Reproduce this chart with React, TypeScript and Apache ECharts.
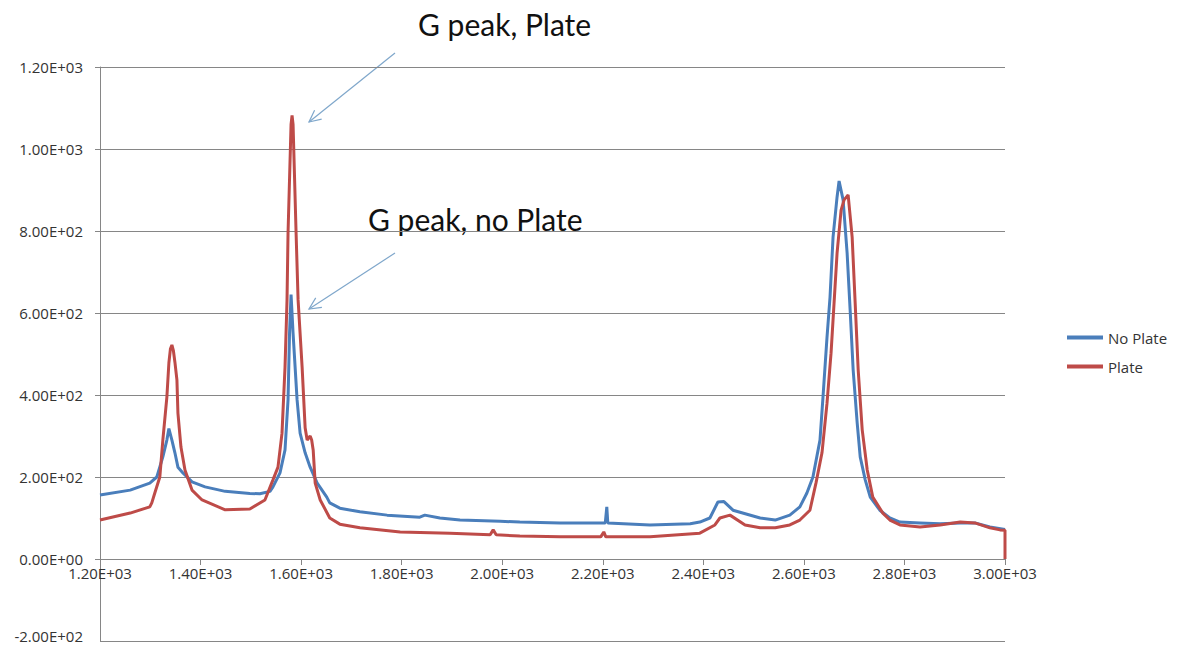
import React, { useEffect, useRef } from "react";
import * as echarts from "echarts";

// Raman shift (cm^-1) vs intensity
const noPlateX = [1200, 1260, 1299, 1313, 1325, 1333, 1337, 1343, 1349, 1355, 1365, 1383, 1409, 1449, 1498, 1518, 1538, 1544, 1558, 1568, 1574, 1577, 1580, 1584, 1592, 1598, 1608, 1618, 1632, 1651, 1657, 1677, 1717, 1771, 1836, 1846, 1876, 1916, 1996, 2035, 2115, 2194, 2205, 2208, 2210, 2294, 2374, 2393, 2413, 2429, 2441, 2459, 2513, 2543, 2572, 2592, 2606, 2618, 2632, 2638, 2646, 2652, 2658, 2666, 2670, 2678, 2686, 2692, 2698, 2706, 2712, 2722, 2732, 2751, 2771, 2791, 2831, 2871, 2911, 2940, 2970, 3000];
const noPlateY = [156, 168, 185, 200, 249, 290, 318, 290, 259, 224, 210, 188, 176, 165, 160, 159, 165, 176, 210, 266, 388, 551, 645, 551, 388, 307, 259, 224, 185, 151, 137, 124, 115, 107, 102, 107, 100, 95, 92, 90, 88, 88, 88, 127, 88, 83, 86, 90, 100, 139, 140, 119, 100, 95, 107, 127, 161, 200, 290, 395, 541, 639, 785, 883, 922, 876, 746, 607, 461, 332, 249, 193, 151, 119, 100, 90, 88, 86, 88, 88, 78, 72];

const plateX = [1200, 1260, 1299, 1303, 1309, 1319, 1325, 1333, 1337, 1340, 1343, 1346, 1349, 1353, 1355, 1361, 1369, 1383, 1403, 1449, 1498, 1528, 1544, 1554, 1562, 1568, 1572, 1574, 1580, 1582, 1584, 1590, 1594, 1602, 1608, 1612, 1618, 1621, 1624, 1628, 1638, 1657, 1677, 1717, 1797, 1896, 1976, 1982, 1988, 2035, 2115, 2196, 2202, 2206, 2294, 2393, 2423, 2433, 2453, 2483, 2513, 2543, 2572, 2592, 2612, 2624, 2636, 2646, 2654, 2660, 2666, 2674, 2680, 2688, 2696, 2702, 2708, 2716, 2726, 2737, 2757, 2771, 2791, 2831, 2871, 2911, 2940, 2970, 2990, 3000, 3000];
const plateY = [95, 112, 127, 137, 161, 200, 290, 395, 478, 512, 522, 508, 480, 437, 356, 273, 217, 168, 144, 120, 122, 144, 193, 224, 307, 468, 632, 795, 1060, 1082, 1060, 795, 632, 468, 320, 290, 300, 290, 266, 185, 144, 100, 85, 76, 66, 63, 59, 71, 59, 56, 54, 54, 66, 54, 54, 63, 83, 100, 107, 83, 76, 76, 83, 95, 119, 185, 259, 380, 502, 624, 746, 851, 876, 888, 785, 624, 461, 315, 217, 151, 112, 95, 83, 78, 83, 90, 88, 76, 71, 70, 0];

const seriesNames = ["No Plate", "Plate"];
const annotationTexts = ["G peak, Plate", "G peak, no Plate"];
const Y_MIN = -200;

const BLUE = "#4a7ebb";
const RED = "#be4b48";
const ARROW = "#7fa7cb";

function sci(v: number): string {
  if (v === 0) return "0.00E+00";
  const e = Math.floor(Math.log10(Math.abs(v)) + 1e-9);
  const m = v / Math.pow(10, e);
  const sign = e < 0 ? "-" : "+";
  const ae = Math.abs(e);
  return m.toFixed(2) + "E" + sign + (ae < 10 ? "0" + ae : String(ae));
}

function arrow(x1: number, y1: number, x2: number, y2: number) {
  const ang = Math.atan2(y1 - y2, x1 - x2);
  const len = 13;
  const spread = 0.45;
  const a = [x2 + len * Math.cos(ang + spread), y2 + len * Math.sin(ang + spread)];
  const b = [x2 + len * Math.cos(ang - spread), y2 + len * Math.sin(ang - spread)];
  return [
    { type: "line", shape: { x1, y1, x2, y2 }, style: { stroke: ARROW, lineWidth: 1.2 } },
    { type: "polyline", shape: { points: [a, [x2, y2], b] }, style: { stroke: ARROW, lineWidth: 1.2, fill: null } },
  ];
}

export default function App() {
  const ref = useRef<HTMLDivElement>(null);
  useEffect(() => {
    if (!ref.current) return;
    document.body.style.margin = "0";
    document.body.style.overflow = "hidden";
    const chart = echarts.init(ref.current, null, { renderer: "svg" });
    const font = "Lato";
    const axisFont = "Open Sans";
    const option = {
      animation: false,
      backgroundColor: "#ffffff",
      grid: { left: 100, right: 172, top: 67, bottom: 5, containLabel: false, outerBoundsMode: "none" },
      legend: {
        orient: "vertical",
        left: 1067,
        top: 330,
        padding: 0,
        itemGap: 14,
        itemWidth: 36,
        itemHeight: 4,
        icon: "rect",
        textStyle: { fontFamily: axisFont, fontSize: 15, color: "#333333" },
        data: [
          { name: seriesNames[0], itemStyle: { color: BLUE } },
          { name: seriesNames[1], itemStyle: { color: RED } },
        ],
      },
      xAxis: {
        type: "value",
        min: 1200,
        max: 3000,
        interval: 200,
        position: "bottom",
        offset: -82,
        axisLine: { onZero: false, lineStyle: { color: "#868686", width: 1 } },
        axisTick: { show: true, length: 6, lineStyle: { color: "#868686" } },
        splitLine: { show: false },
        axisLabel: { fontFamily: axisFont, fontSize: 15, color: "#333333", margin: 6, formatter: (v: number) => sci(v) },
      },
      yAxis: {
        type: "value",
        min: Y_MIN,
        max: 1200,
        interval: 200,
        axisLine: { show: true, lineStyle: { color: "#868686", width: 1 } },
        axisTick: { show: true, length: 5, lineStyle: { color: "#868686" } },
        splitLine: { show: true, lineStyle: { color: "#868686", width: 1 } },
        axisLabel: {
          fontFamily: axisFont,
          fontSize: 15,
          color: "#333333",
          margin: 17,
          showMinLabel: false,
          formatter: (v: number) => sci(v),
        },
      },
      series: [
        {
          name: seriesNames[0],
          type: "line",
          showSymbol: false,
          data: noPlateX.map((x, i) => [x, noPlateY[i]]),
          lineStyle: { color: BLUE, width: 3 },
          itemStyle: { color: BLUE },
        },
        {
          name: seriesNames[1],
          type: "line",
          showSymbol: false,
          data: plateX.map((x, i) => [x, plateY[i]]),
          lineStyle: { color: RED, width: 3 },
          itemStyle: { color: RED },
        },
      ],
      graphic: [
        {
          type: "text",
          left: 418,
          top: 9,
          style: { text: annotationTexts[0], fontFamily: font, fontSize: 30, fill: "#111111" },
        },
        {
          type: "text",
          left: 368,
          top: 204,
          style: { text: annotationTexts[1], fontFamily: font, fontSize: 30, fill: "#111111" },
        },
        {
          type: "text",
          x: 83,
          y: 636,
          style: {
            text: sci(Y_MIN),
            fontFamily: axisFont,
            fontSize: 15,
            fill: "#333333",
            align: "right",
            verticalAlign: "middle",
          },
        },
        ...arrow(395, 53, 309, 122),
        ...arrow(395, 253, 309, 309),
      ],
    };
    chart.setOption(option as any);
    return () => chart.dispose();
  }, []);
  return <div ref={ref} style={{ position: "absolute", left: 0, top: 0, width: 1177, height: 646 }} />;
}
